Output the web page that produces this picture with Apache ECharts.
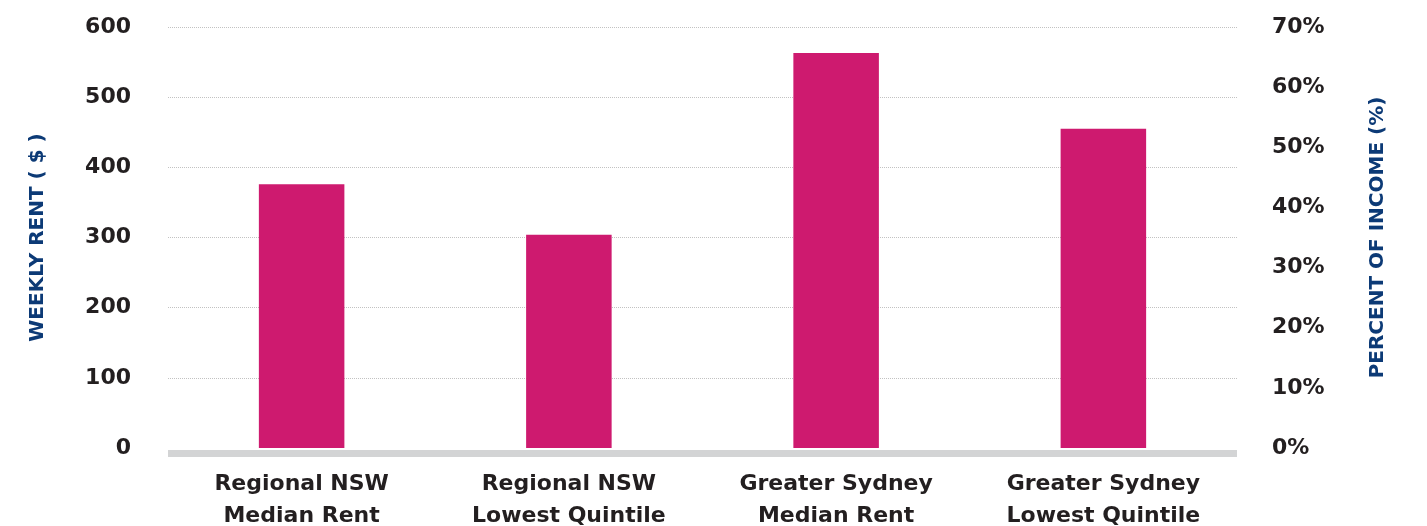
<!DOCTYPE html>
<html>
<head>
<meta charset="utf-8">
<script src="https://cdn.jsdelivr.net/npm/echarts@6/dist/echarts.min.js"></script>
<style>
  html, body { margin: 0; padding: 0; background: #ffffff; }
  #chart { width: 1427px; height: 526px; }
</style>
</head>
<body>
<div id="chart"></div>
<script>
// Weekly rent by region
const categories = [
  'Regional NSW\nMedian Rent',
  'Regional NSW\nLowest Quintile',
  'Greater Sydney\nMedian Rent',
  'Greater Sydney\nLowest Quintile'
];
const weeklyRent = [376, 304, 563, 455];
const rentTicks = { min: 0, max: 600, interval: 100 };
const percentTicks = { min: 0, max: 70, interval: 10 };

const FONT = '"DejaVu Sans", sans-serif';
const TEXT = '#231f20';
const NAVY = '#0c3a76';
const BAR = '#ce1a6f';

const chart = echarts.init(document.getElementById('chart'), null, { renderer: 'canvas' });

chart.setOption({
  backgroundColor: '#ffffff',
  animation: false,
  grid: { left: 168, right: 190, top: 27, bottom: 78, containLabel: false, outerBoundsMode: 'none' },
  xAxis: {
    type: 'category',
    data: categories,
    offset: 5,
    // thick grey baseline sitting just under the bars
    axisLine: { show: true, onZero: false, lineStyle: { color: '#d3d4d5', width: 7, cap: 'butt' } },
    axisTick: { show: false },
    axisLabel: {
      fontFamily: FONT, fontWeight: 'bold', fontSize: 22,
      color: TEXT, lineHeight: 32, margin: 15
    }
  },
  yAxis: [
    {
      type: 'value',
      min: rentTicks.min, max: rentTicks.max, interval: rentTicks.interval,
      name: 'WEEKLY RENT ( $ )',
      nameLocation: 'middle',
      nameRotate: 90,
      nameGap: 120,
      nameTextStyle: { fontFamily: FONT, fontWeight: 'bold', fontSize: 20, color: NAVY },
      axisLine: { show: false },
      axisTick: { show: false },
      axisLabel: {
        fontFamily: FONT, fontWeight: 'bold', fontSize: 22, color: TEXT, margin: 37
      },
      splitLine: {
        show: true, showMinLine: false,
        lineStyle: { color: '#c2c2c2', type: 'dotted', width: 1 }
      }
    },
    {
      type: 'value',
      position: 'right',
      min: percentTicks.min, max: percentTicks.max, interval: percentTicks.interval,
      name: 'PERCENT OF INCOME (%)',
      nameLocation: 'middle',
      nameRotate: 90,
      nameGap: 131,
      nameTextStyle: { fontFamily: FONT, fontWeight: 'bold', fontSize: 20, color: NAVY },
      axisLine: { show: false },
      axisTick: { show: false },
      axisLabel: {
        fontFamily: FONT, fontWeight: 'bold', fontSize: 22, color: TEXT, margin: 35,
        formatter: '{value}%'
      },
      splitLine: { show: false }
    }
  ],
  series: [
    {
      name: 'Weekly rent',
      type: 'bar',
      yAxisIndex: 0,
      data: weeklyRent,
      barWidth: '32%',
      itemStyle: { color: BAR }
    }
  ]
});
</script>
</body>
</html>
